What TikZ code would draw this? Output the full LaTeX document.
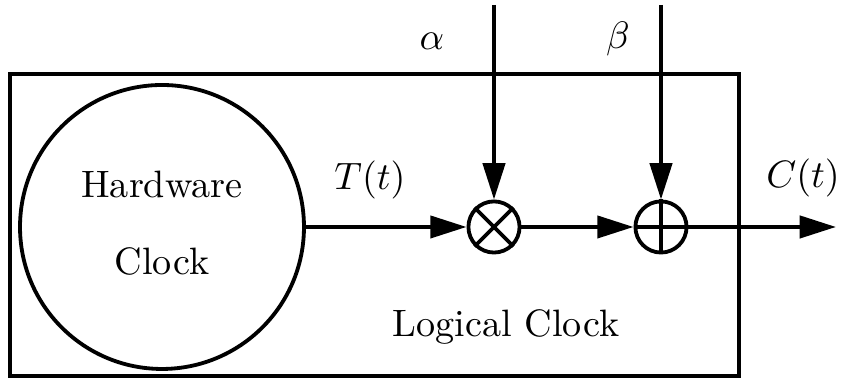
\documentclass[tikz,border=0pt]{standalone}
\usetikzlibrary{arrows.meta, positioning}

\begin{document}
\begin{tikzpicture}[
    x=0.262pt, y=-0.262pt,
    ring/.style={circle, draw, line width=1pt, minimum size=74.4pt, inner sep=0pt},
    op/.style={circle, draw, line width=1pt, minimum size=13.4pt, inner sep=0pt},
    frame/.style={draw, line width=1pt},
    flow/.style={-{Triangle[length=9.5pt, width=5.8pt]}, line width=1pt},
    lbl/.style={anchor=base, inner sep=0pt},
]

\useasboundingbox (0,0) rectangle (843,379);

% ===== Logical clock frame =====
\coordinate (lcnw) at (10,74);
\coordinate (lcse) at (739,376);
\draw[frame] (lcnw) rectangle (lcse);
\node[lbl] (lclabel) at (506,337) {Logical Clock};

% ===== Hardware clock =====
\node[ring] (hw) at (162,227) {};
\node[lbl] (hwtop) at (162,198) {Hardware};
\node[lbl] (hwbot) at (162,275) {Clock};

% ===== Multiplier and adder =====
\node[op] (mul) at (494,227) {};
\node[op] (add) at (661,227) {};
\draw[line width=1pt] (mul.north west) -- (mul.south east);
\draw[line width=1pt] (mul.north east) -- (mul.south west);
\draw[line width=1pt] (add.north) -- (add.south);
\draw[line width=1pt] (add.west) -- (add.east);

% inputs from the top
\coordinate (ain) at (494,5);
\coordinate (bin) at (661,5);
\node[lbl] (alpha) at (432,50) {$\alpha$};
\node[lbl] (beta) at (618,49) {$\beta$};

% output
\coordinate (cout) at (836,227);
\node[lbl] (tlabel) at (370,190) {$T(t)$};
\node[lbl] (clabel) at (803,188) {$C(t)$};

% ===== Connectors =====
\draw[flow] (hw) -- (mul);
\draw[flow] (mul) -- (add);
\draw[flow] (ain) -- (mul);
\draw[flow] (bin) -- (add);
\draw[flow] (add) -- (cout);

\end{tikzpicture}
\end{document}
